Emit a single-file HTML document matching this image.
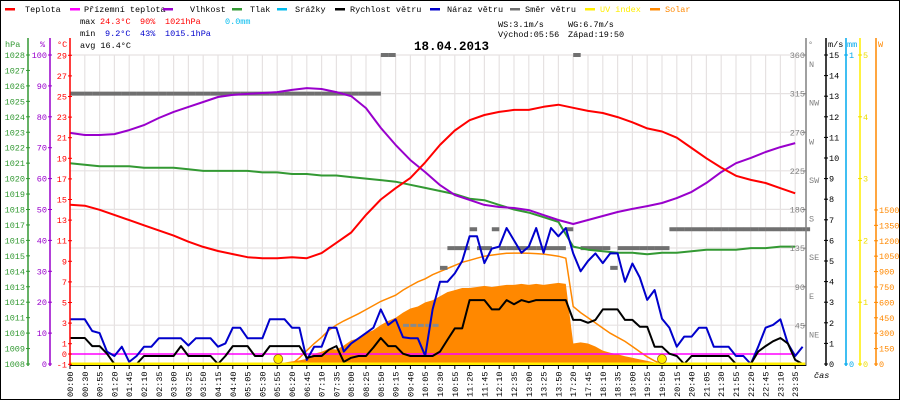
<!DOCTYPE html>
<html><head><meta charset="utf-8"><style>
body{margin:0;background:#fff}
svg{display:block;font-family:"Liberation Mono",monospace}
text{font-size:8.5px}
</style></head><body>
<svg id="c" width="900" height="400" viewBox="0 0 900 400">
<rect x="0.5" y="0.5" width="899" height="399" fill="#fff" stroke="#000"/>
<g id="grid"></g>
<g id="series"></g>
<g id="axes"></g>
<g id="legend"></g>
<g>
<text x="80" y="24" fill="#000">max</text><text x="100" y="24" fill="#f00">24.3°C</text><text x="140" y="24" fill="#f00">90%</text><text x="165" y="24" fill="#f00">1021hPa</text><text x="225" y="24" fill="#00bbee">0.0mm</text>
<text x="80" y="36" fill="#000">min</text><text x="105" y="36" fill="#00c">9.2°C</text><text x="140" y="36" fill="#00c">43%</text><text x="165" y="36" fill="#00c">1015.1hPa</text>
<text x="80" y="48" fill="#000">avg 16.4°C</text>
<text x="498" y="27" fill="#000">WS:3.1m/s</text><text x="568" y="27" fill="#000">WG:6.7m/s</text>
<text x="498" y="37" fill="#000">Východ:05:56</text><text x="568" y="37" fill="#000">Západ:19:50</text>
<text x="414" y="50" fill="#000" style="font-size:12.5px;font-weight:bold">18.04.2013</text>
</g>
</svg>
<script>
const timeLabels=["00:00","00:30","00:55","01:20","01:45","02:10","02:35","03:00","03:25","03:50","04:15","04:40","05:05","05:30","05:55","06:20","06:45","07:10","07:35","08:00","08:25","08:50","09:15","09:40","10:05","10:30","10:55","11:20","11:45","12:10","12:35","13:00","13:25","13:50","17:20","17:45","18:10","18:35","19:00","19:25","19:50","20:15","20:40","21:05","21:30","21:55","22:20","22:45","23:10","23:35"];
const temperature=[14.5,14.4,14.0,13.5,13.0,12.5,12.0,11.5,10.9,10.4,10.0,9.7,9.4,9.3,9.3,9.4,9.3,9.8,10.8,11.8,13.5,15.0,16.1,17.1,18.6,20.3,21.7,22.7,23.2,23.5,23.7,23.7,24.0,24.2,23.9,23.6,23.4,23.0,22.5,21.9,21.6,21.0,20.0,19.0,18.1,17.3,16.9,16.6,16.1,15.6];
const humidity=[74.8,74.1,74.1,74.4,75.7,77.3,79.6,81.6,83.2,84.8,86.4,87.1,87.4,87.7,88.0,88.7,89.3,89.0,88.0,86.7,82.8,76.4,70.9,66.0,62.1,57.9,54.7,53.1,51.5,50.8,50.5,49.8,48.2,46.6,45.3,46.6,47.9,49.2,50.2,51.1,52.1,53.7,55.7,58.6,62.1,65.0,66.7,68.6,70.2,71.5];
const pressure=[1021.0,1020.9,1020.8,1020.8,1020.8,1020.7,1020.7,1020.7,1020.6,1020.5,1020.5,1020.5,1020.5,1020.4,1020.4,1020.3,1020.3,1020.2,1020.2,1020.1,1020.0,1019.9,1019.8,1019.6,1019.4,1019.2,1019.0,1018.7,1018.6,1018.3,1018.0,1017.8,1017.5,1017.2,1015.6,1015.4,1015.3,1015.2,1015.2,1015.1,1015.2,1015.2,1015.3,1015.4,1015.4,1015.4,1015.5,1015.5,1015.6,1015.6];
const feelsLike=temperature.map(()=>0);
const windSpeed=[1.26,1.26,1.26,0.87,0.87,0.5,0,0,0,0,0.39,0.39,0.39,0.39,0.39,0.87,0.39,0.39,0.39,0.39,0,0.39,0.87,0.87,0.87,0.39,0.39,0.87,0.87,0.87,0.87,0.87,0.3,0.39,0.39,0.7,0.87,0.1,0.3,0.39,0.39,0.8,1.26,0.87,0.87,0.5,0.39,0.39,0.39,0.39,
0.6,1.17,1.73,1.73,3.1,3.1,3.1,2.65,2.65,3.1,2.9,3.1,3.0,3.1,3.1,3.1,3.1,3.1,2.14,2.14,2.0,2.14,2.65,2.65,2.65,2.14,2.14,1.81,1.81,0.84,0.84,0.5,0.39,0,0.39,0.39,0.39,0.39,0.39,0.39,0,0,0,0.6,0.87,1.1,1.26,1.0,0.2,0];
const windGust=[2.17,2.17,2.17,1.6,1.5,0.6,0.39,0.84,0.1,0.39,0.84,0.84,1.25,1.25,1.25,1.25,0.9,1.25,1.25,1.25,0.84,1.0,1.76,1.76,1.25,1.25,1.25,2.17,2.17,2.17,1.76,1.76,0.2,0.84,0.84,1.76,1.76,0.6,1.0,1.25,1.5,1.76,2.65,1.9,2.17,1.3,1.25,1.25,0.4,2.65,
3.99,3.99,4.4,5.0,6.2,6.2,4.9,5.6,5.7,6.6,6.0,5.4,5.7,6.6,5.4,6.6,6.2,6.6,5.37,4.5,5.0,5.37,4.9,5.37,5.37,3.99,4.88,4.2,3.11,3.59,2.2,1.76,0.84,1.33,1.33,1.76,1.76,0.84,0.84,0.84,0.39,0.39,0,0.84,1.76,1.9,2.17,1.0,0.39,0.84];
const windDir=[315,315,315,315,315,315,315,315,315,315,315,315,315,315,315,315,315,315,315,315,315,315,315,315,315,315,315,315,315,315,315,315,315,315,315,315,315,315,315,315,315,315,360,360,null,45,45,45,45,45,
112,135,135,135,157,135,135,157,135,135,135,135,135,135,135,135,135,157,360,135,135,135,135,112,135,135,135,135,135,135,135,157,157,157,157,157,157,157,157,157,157,157,157,157,157,157,157,157,157,157];
const solar=[0,0,0,0,0,0,0,0,0,0,0,0,0,0,0,0,0,0,0,0,0,0,0,0,0,0,0,0,5,15,25,35,50,100,120,150,140,180,230,250,300,330,380,420,450,500,540,560,600,620,
660,700,720,740,740,750,760,750,760,770,770,780,770,780,770,780,790,780,200,210,200,170,130,110,95,75,60,45,30,15,5,0,0,0,0,0,0,0,0,0,0,0,0,0,0,0,0,0,0,0];
const solarMax=[null,null,null,null,null,null,null,null,null,null,null,null,null,null,null,null,null,null,null,null,null,null,null,null,null,null,null,null,null,null,0,60,130,200,260,330,380,420,455,490,530,570,610,640,670,720,760,800,830,870,
900,930,960,990,1010,1030,1050,1060,1070,1078,1080,1080,1078,1075,1070,1060,1050,1030,560,500,450,400,350,300,260,220,170,120,70,30,0,null,null,null,null,null,null,null,null,null,null,null,null,null,null,null,null,null,null,null];
const uvMarkers=[14.07,40.0];

const NS='http://www.w3.org/2000/svg';
const xS=s=>70+14.8*s;
const xK=k=>70+7.4*k;
const yT=t=>364.3-(t+1)*10.3;
const yH=h=>364-h*3.09;
const yP=p=>364-(p-1008)*15.45;
const yW=v=>364-v*20.6;
const yS=w=>364-w*0.1027;
const yD=d=>364-d*0.8583;
const yU=u=>364-u*61.8;
function el(tag,attrs,parent,txt){const e=document.createElementNS(NS,tag);for(const k in attrs)e.setAttribute(k,attrs[k]);if(txt!==undefined)e.textContent=txt;parent.appendChild(e);return e;}
const G=document.getElementById('grid'),S=document.getElementById('series'),A=document.getElementById('axes'),L=document.getElementById('legend');

for(let i=0;i<timeLabels.length;i++){const x=xS(i);const g=el('line',{x1:x,x2:x,y1:55,y2:364,stroke:'#e6e2e2','stroke-width':1.2},G);

}
for(let n=0;n<8;n++){const y=55+n*38.6;const g=el('line',{x1:70,x2:806,y1:y,y2:y,stroke:'#e6e2e2','stroke-width':1.2},G);

}

{let d='M'+xK(0)+',364';solar.forEach((w,k)=>{d+=' L'+xK(k).toFixed(1)+','+yS(w).toFixed(1);});d+=' L'+xK(solar.length-1)+',364 Z';
const p=el('path',{d:d,fill:'#ff8800'},S);

}
{let d='';solarMax.forEach((w,k)=>{if(w===null)return;d+=(d?' L':'M')+xK(k).toFixed(1)+','+yS(w).toFixed(1);});
const p=el('path',{d:d,fill:'none',stroke:'#ff8800','stroke-width':1.5},S);

}
windDir.forEach((d,k)=>{if(d===null)return;const y=yD(d);const small=d<90;
const r=el('rect',{x:xK(k),y:y-(small?1.5:2),width:small?6:7.5,height:small?3:4,fill:small?'#8a8a8a':'#707070'},S);

});
function line(arr,xf,yf,color,w,name){const pts=arr.map((v,i)=>xf(i).toFixed(1)+','+yf(v).toFixed(1)).join(' ');
const p=el('polyline',{points:pts,fill:'none',stroke:color,'stroke-width':w,'stroke-linejoin':'round'},S);

}
line(pressure,xS,yP,'#339933',2,'pressure-line');
line(humidity,xS,yH,'#9900cc',2,'humidity-line');
line(temperature,xS,yT,'#ff0000',2,'temperature-line');
line(feelsLike,xS,yT,'#ff00ff',1.5,'feels-like-line');
line(windGust,xK,yW,'#0000cc',2,'wind-gust-line');
line(windSpeed,xK,yW,'#000000',2,'wind-speed-line');
{const u=el('line',{x1:70,x2:806,y1:364,y2:364,stroke:'#ffee00','stroke-width':3},S);

}
uvMarkers.forEach(s=>{const c=el('circle',{cx:xS(s),cy:359,r:4.5,fill:'#ffee00',stroke:'#996600','stroke-width':0.8},S);

});

function vaxis(x,color,name){const a=el('line',{x1:x,x2:x,y1:38,y2:366,stroke:color,'stroke-width':1.5},A);

}
vaxis(28,'#339933','pressure-axis');vaxis(50,'#9900cc','humidity-axis');vaxis(70,'#ff0000','temperature-axis');
vaxis(806,'#808080','direction-axis');vaxis(826,'#000','wind-axis');vaxis(846,'#00aaee','rain-axis');vaxis(860,'#ffee00','uv-axis');vaxis(876,'#ff8800','solar-axis');
function tick(x,y,color,label,tx,anchor,name){el('line',{x1:x-2,x2:x+2,y1:y,y2:y,stroke:color},A);
const t=el('text',{x:tx,y:y+3,fill:color,'text-anchor':anchor},A,label);

}
for(let p=1008;p<=1028;p++)tick(28,yP(p),'#339933',String(p),25,'end','pressure-tick-label');
for(let h=0;h<=100;h+=10)tick(50,yH(h),'#9900cc',String(h),47,'end','humidity-tick-label');
for(let t=-1;t<=29;t+=2)tick(70,yT(t),'#ff0000',String(t),67,'end','temperature-tick-label');
tick(70,yT(0),'#ff0000','0',67,'end','temperature-tick-label');
const dirNames={360:'N',315:'NW',270:'W',225:'SW',180:'S',135:'SE',90:'E',45:'NE'};
for(const d of [360,315,270,225,180,135,90,45]){const y=yD(d);el('line',{x1:803,x2:806,y1:y,y2:y,stroke:'#808080'},A);
const t=el('text',{x:805,y:y+3,fill:'#808080','text-anchor':'end'},A,String(d));


const t2=el('text',{x:809,y:y+12,fill:'#808080'},A,dirNames[d]);

}
for(let v=0;v<=15;v++)tick(826,yW(v),'#000',String(v),829,'start','wind-tick-label');
tick(846,yW(0),'#00aaee','0',849,'start','rain-tick-label');tick(846,yW(15),'#00aaee','1',849,'start','rain-tick-label');
for(let u=0;u<=5;u++)tick(860,yU(u),'#eedd00',String(u),863,'start','uv-tick-label');
for(let w=0;w<=1500;w+=150)tick(876,yS(w),'#ff8800',String(w),879,'start','solar-tick-label');
const heads=[[5,'hPa','#339933'],[40,'%','#9900cc'],[57,'°C','#ff0000'],[808,'°','#808080'],[828,'m/s','#000'],[847,'mm','#00aaee'],[878,'W','#ff8800']];
heads.forEach(h=>{const t=el('text',{x:h[0],y:47,fill:h[2]},A,h[1]);

});
el('line',{x1:70,x2:806,y1:365.5,y2:365.5,stroke:'#000'},A);
timeLabels.forEach((lb,i)=>{const x=xS(i);el('line',{x1:x,x2:x,y1:366,y2:369,stroke:'#000'},A);
const t=el('text',{x:0,y:0,fill:'#000',transform:'translate('+(x+3)+',397) rotate(-90)'},A,lb);

});
{const t=el('text',{x:814,y:378,fill:'#000','font-style':'italic'},A,'čas');

}

const legendItems=[['Teplota','#ff0000',5,25],['Přízemní teplota','#ff00ff',70,84],['Vlhkost','#9900cc',163,190],['Tlak','#339933',232,250],['Srážky','#00bbee',277,295],['Rychlost větru','#000000',335,350],['Náraz větru','#0000cc',430,447],['Směr větru','#707070',510,525],['UV index','#ffee00',585,600],['Solar','#ff8800',650,665]];
legendItems.forEach(it=>{const g=el('g',{},L);


el('rect',{x:it[2],y:8,width:10,height:2.5,fill:it[1]},g);
el('text',{x:it[3],y:12,fill:(it[0]==='UV index'||it[0]==='Solar')?it[1]:'#000'},g,it[0]);});
</script>
</body></html>
